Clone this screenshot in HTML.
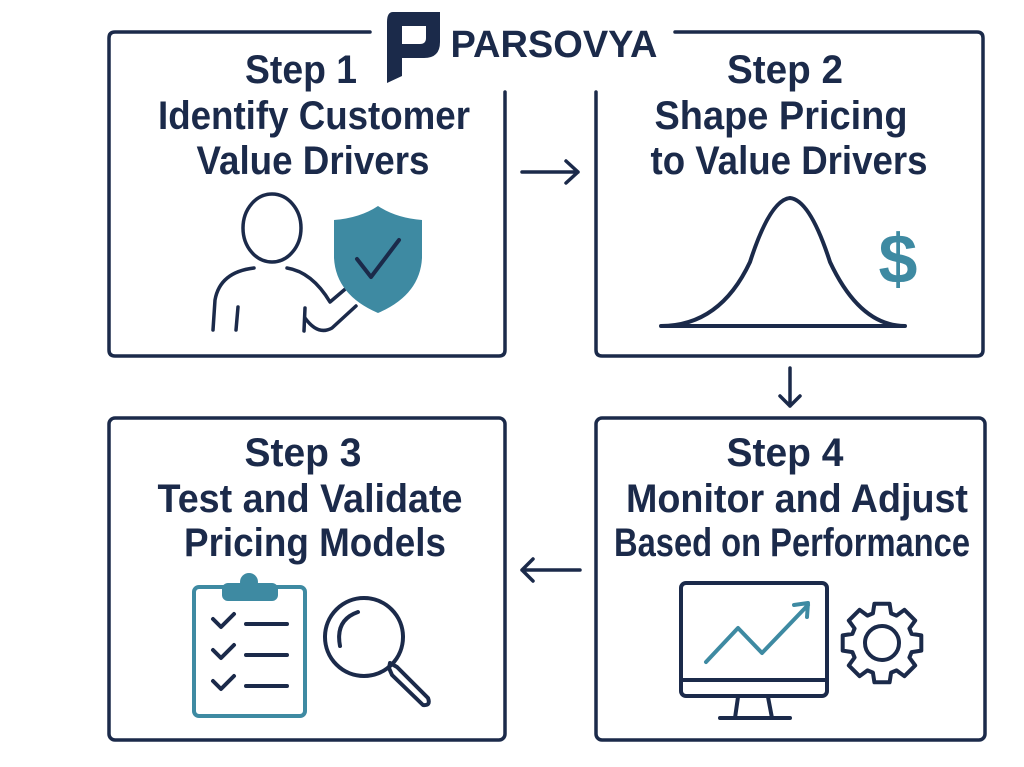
<!DOCTYPE html>
<html><head><meta charset="utf-8"><style>
html,body{margin:0;padding:0;background:#fff;}
svg{display:block;}
text{font-family:"Liberation Sans Narrow","Liberation Sans",sans-serif;font-weight:bold;fill:#1b2a4a;text-anchor:middle;}
</style></head><body>
<svg width="1024" height="767" viewBox="0 0 1024 767" xmlns="http://www.w3.org/2000/svg">
<g fill="none" stroke="#1b2a4a" stroke-width="3.5" stroke-linecap="round" stroke-linejoin="round">
  <path d="M370 32 L115 32 Q109 32 109 38 L109 350 Q109 356 115 356 L499 356 Q505 356 505 350 L505 92"/>
  <path d="M675 32 L977 32 Q983 32 983 38 L983 350 Q983 356 977 356 L602 356 Q596 356 596 350 L596 92"/>
  <rect x="109" y="418" width="396" height="322" rx="6"/>
  <rect x="596" y="418" width="389" height="322" rx="6"/>
  <path d="M522 172 L578 172 M566 161 L578 172 L566 183"/>
  <path d="M790 368 L790 406 M780 396 L790 406 L800 396"/>
  <path d="M580 570 L522 570 M533 559 L522 570 L533 581"/>
</g>
<path d="M393 12 L440 12 L440 42 Q440 58 424 58 L402 58 L402 76 L387 83 L387 22 Q387 12 393 12 Z M402 26 L402 44 L420 44 Q426 44 426 38 L426 26 Z" fill="#1b2a4a" fill-rule="evenodd"/>
<text x="554" y="57" font-size="38" textLength="207" lengthAdjust="spacingAndGlyphs" style="font-family:'Liberation Sans',sans-serif">PARSOVYA</text>

<text x="301" y="83" font-size="40" textLength="112" lengthAdjust="spacingAndGlyphs">Step 1</text>
<text x="314" y="129" font-size="40" textLength="312" lengthAdjust="spacingAndGlyphs">Identify Customer</text>
<text x="313" y="174" font-size="40" textLength="233" lengthAdjust="spacingAndGlyphs">Value Drivers</text>

<text x="785" y="83" font-size="40" textLength="116" lengthAdjust="spacingAndGlyphs">Step 2</text>
<text x="781" y="129" font-size="40" textLength="253" lengthAdjust="spacingAndGlyphs">Shape Pricing</text>
<text x="789" y="174" font-size="40" textLength="277" lengthAdjust="spacingAndGlyphs">to Value Drivers</text>

<text x="303" y="466" font-size="40" textLength="117" lengthAdjust="spacingAndGlyphs">Step 3</text>
<text x="310" y="512" font-size="40" textLength="305" lengthAdjust="spacingAndGlyphs">Test and Validate</text>
<text x="315" y="556" font-size="40" textLength="262" lengthAdjust="spacingAndGlyphs">Pricing Models</text>

<text x="785" y="466" font-size="40" textLength="117" lengthAdjust="spacingAndGlyphs">Step 4</text>
<text x="797" y="512" font-size="40" textLength="342" lengthAdjust="spacingAndGlyphs">Monitor and Adjust</text>
<text x="792" y="556" font-size="40" textLength="356" lengthAdjust="spacingAndGlyphs">Based on Performance</text>

<g fill="none" stroke="#1b2a4a" stroke-width="3.5" stroke-linecap="round" stroke-linejoin="round">
  <ellipse cx="272" cy="228" rx="29" ry="34"/>
  <path d="M254 268 Q220 272 215 300 L213 330"/>
  <path d="M238 307 L236 330"/>
  <path d="M287 268 Q312 272 330 302 L350 285"/>
  <path d="M305 308 L304 331"/>
  <path d="M305 318 Q318 336 332 328 L356 306"/>
</g>
<path d="M378 206 Q360 218 334 220 L334 258 Q336 295 378 313 Q420 295 422 258 L422 220 Q396 218 378 206 Z" fill="#3e8aa2"/>
<path d="M357 259 L371 277 L399 240" fill="none" stroke="#1b2a4a" stroke-width="4" stroke-linecap="round" stroke-linejoin="round"/>

<path d="M661 326 Q720 326 750 262 Q770 200 790 198 Q810 200 830 262 Q860 326 905 326 M661 326 L905 326" fill="none" stroke="#1b2a4a" stroke-width="4" stroke-linecap="round"/>
<text x="898" y="283" font-size="70" style="fill:#3e8aa2;font-family:'Liberation Sans',sans-serif;font-weight:bold">$</text>

<rect x="194" y="587" width="111" height="129" rx="5" fill="none" stroke="#3e8aa2" stroke-width="4"/>
<rect x="222" y="583" width="56" height="18" rx="6" fill="#3e8aa2"/>
<circle cx="249" cy="582" r="9" fill="#3e8aa2"/>
<g fill="none" stroke="#1b2a4a" stroke-width="4" stroke-linecap="round" stroke-linejoin="round">
  <path d="M213 619 L221 627 L234 614 M246 624 L287 624"/>
  <path d="M213 650 L221 658 L234 645 M246 655 L287 655"/>
  <path d="M213 681 L221 689 L234 676 M246 686 L287 686"/>
  <circle cx="364" cy="637" r="39"/>
  <path d="M340 646 Q335 620 358 612"/>
  <path d="M389 668 L390 663 L397 667 L428 698 Q431 706 423 705 L392 675 Z"/>
</g>

<g fill="none" stroke="#1b2a4a" stroke-width="4" stroke-linecap="round" stroke-linejoin="round">
  <rect x="681" y="583" width="146" height="113" rx="5"/>
  <path d="M683 680 L825 680"/>
  <path d="M738 697 L735 718 M768 697 L772 718 M720 718 L790 718"/>
  <polygon transform="translate(882 643)" points="29.6,-9.1 39.3,-7.6 39.3,7.6 29.6,9.1 27.4,14.5 33.2,22.4 22.4,33.2 14.5,27.4 9.1,29.6 7.6,39.3 -7.6,39.3 -9.1,29.6 -14.5,27.4 -22.4,33.2 -33.2,22.4 -27.4,14.5 -29.6,9.1 -39.3,7.6 -39.3,-7.6 -29.6,-9.1 -27.4,-14.5 -33.2,-22.4 -22.4,-33.2 -14.5,-27.4 -9.1,-29.6 -7.6,-39.3 7.6,-39.3 9.1,-29.6 14.5,-27.4 22.4,-33.2 33.2,-22.4 27.4,-14.5"/>
  <circle cx="882" cy="643" r="17"/>
</g>
<path d="M706 662 L738 628 L762 653 L808 605 M794 605 L808 603 L807 617" fill="none" stroke="#3e8aa2" stroke-width="4" stroke-linecap="round" stroke-linejoin="round"/>
</svg>
</body></html>
